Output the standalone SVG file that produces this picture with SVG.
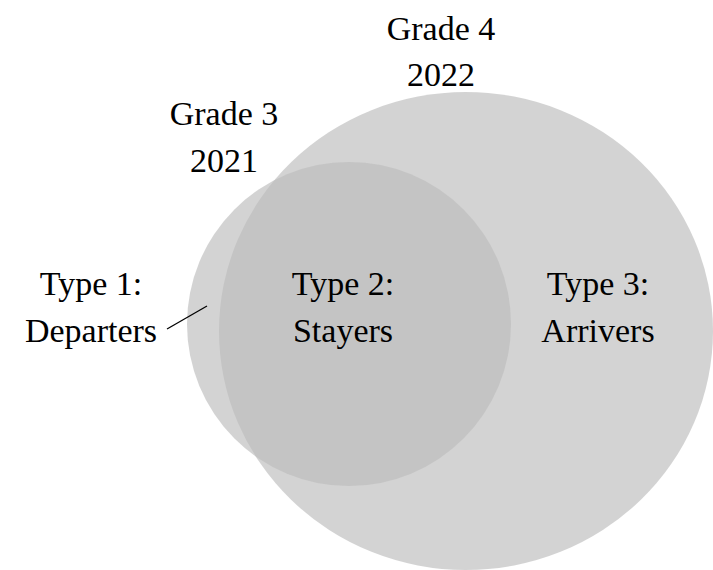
<svg xmlns="http://www.w3.org/2000/svg" width="713" height="570" viewBox="0 0 713 570">
<style>
.set{fill:#bcbcbc;fill-opacity:0.66;stroke:none}
.lbl{font-size:34px;fill:#000;text-anchor:middle}
.lead{stroke:#000;stroke-width:1.3;fill:none}
</style>
<rect width="713" height="570" fill="#fff"/>
<g id="grade4">
<ellipse class="set" cx="466" cy="331" rx="247" ry="239"/>
</g>
<g id="grade3">
<circle class="set" cx="349" cy="324" r="162"/>
</g>
<g id="connectors">
<line class="lead" x1="167" y1="329" x2="207" y2="306"/>
</g>
<g font-family="Liberation Serif, Times New Roman, DejaVu Serif, serif">
<g id="label-grade3">
<text class="lbl" x="224" y="125">Grade 3</text>
<text class="lbl" x="224" y="172">2021</text>
</g>
<g id="label-grade4">
<text class="lbl" x="441" y="40">Grade 4</text>
<text class="lbl" x="441" y="86">2022</text>
</g>
<g id="type1">
<text class="lbl" x="91" y="295">Type 1:</text>
<text class="lbl" x="91" y="342">Departers</text>
</g>
<g id="type2">
<text class="lbl" x="343" y="295">Type 2:</text>
<text class="lbl" x="343" y="342">Stayers</text>
</g>
<g id="type3">
<text class="lbl" x="598" y="295">Type 3:</text>
<text class="lbl" x="598" y="342">Arrivers</text>
</g>
</g>
</svg>
